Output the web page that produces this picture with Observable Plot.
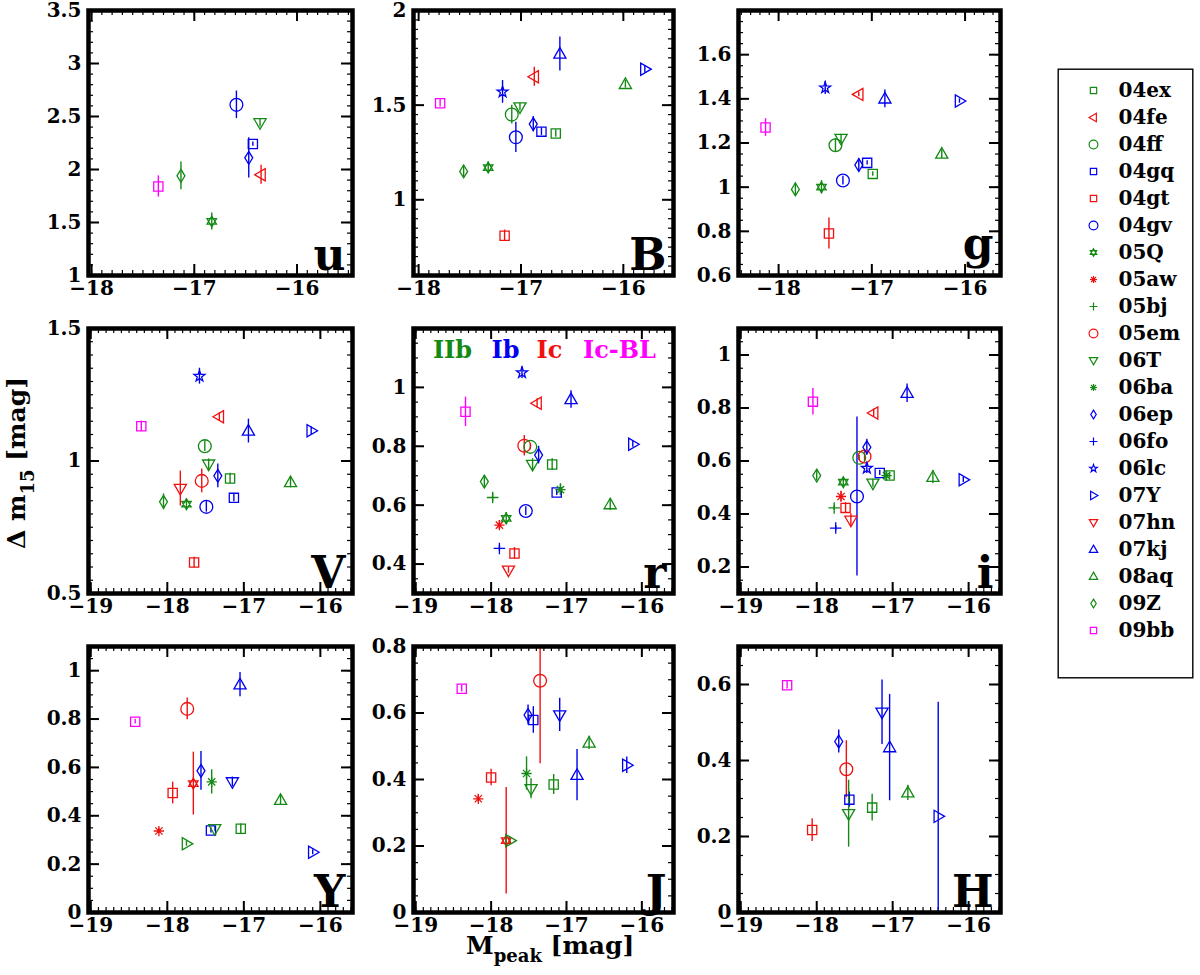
<!DOCTYPE html>
<html><head><meta charset="utf-8">
<script src="https://cdn.jsdelivr.net/npm/d3@7"></script>
<script src="https://cdn.jsdelivr.net/npm/@observablehq/plot@0.6"></script>
<style>
body{margin:0;background:#fff;}
#fig{position:relative;width:1200px;height:975px;overflow:hidden;font-family:"DejaVu Serif",serif;font-weight:bold;color:#000;}
.panel{position:absolute;}
.panel svg{overflow:visible;}
.ytitle{position:absolute;left:20px;top:463px;transform:translate(-50%,-50%) rotate(-90deg);font-size:25px;white-space:nowrap;}
.xtitle{position:absolute;left:466px;top:931px;font-size:25px;white-space:nowrap;}
sub{font-size:0.72em;vertical-align:-0.45em;}
</style></head><body><div id="fig"></div>
<script>
// ---------------- data ----------------
const snNames = ["04ex","04fe","04ff","04gq","04gt","04gv","05Q","05aw","05bj","05em","06T","06ba","06ep","06fo","06lc","07Y","07hn","07kj","08aq","09Z","09bb"];
const snTypes = ["IIb","Ic","IIb","Ib","Ic","Ib","IIb","Ic","IIb","Ic","IIb","IIb","Ib","Ib","Ib","Ib","Ic","Ib","IIb","IIb","Ic-BL"];
// objects shown only in the NIR panels, not in the legend
const extraNames = ["X1","X2","X3"];
const extraTypes = ["Ib","IIb","Ic"];

const u_names = ["09bb","09Z","05Q","04gv","06ep","04gq","06T","04fe"];
const u_M     = [-17.35,-17.13,-16.83,-16.59,-16.47,-16.43,-16.36,-16.35];
const u_dm    = [1.84,1.94,1.51,2.61,2.11,2.24,2.44,1.95];
const u_err   = [0.10,0.13,0.08,0.13,0.19,0.02,0.04,0.09];

const B_names = ["09bb","09Z","05Q","06lc","04gt","04ff","04gv","06T","06ep","04fe","04gq","04ex","07kj","08aq","07Y"];
const B_M     = [-17.79,-17.56,-17.32,-17.18,-17.16,-17.09,-17.05,-17.01,-16.88,-16.87,-16.80,-16.66,-16.62,-15.98,-15.79];
const B_dm    = [1.51,1.15,1.17,1.57,0.81,1.45,1.33,1.49,1.40,1.65,1.36,1.35,1.77,1.61,1.69];
const B_err   = [0.02,0.03,0.03,0.06,0.03,0.05,0.08,0.02,0.04,0.05,0.02,0.02,0.09,0.02,0.02];

const g_names = ["09bb","09Z","05Q","06lc","04gt","04ff","06T","04gv","04fe","06ep","04gq","04ex","07kj","08aq","07Y"];
const g_M     = [-18.14,-17.82,-17.54,-17.50,-17.46,-17.39,-17.33,-17.31,-17.14,-17.14,-17.05,-16.99,-16.86,-16.25,-16.06];
const g_dm    = [1.27,0.99,1.00,1.45,0.79,1.19,1.22,1.03,1.42,1.10,1.11,1.06,1.40,1.15,1.39];
const g_err   = [0.04,0.03,0.03,0.03,0.07,0.03,0.02,0.02,0.01,0.03,0.01,0.01,0.04,0.02,0.01];

const V_names = ["09bb","09Z","07hn","05Q","04gt","06lc","05em","04ff","04gv","06T","06ep","04fe","04ex","04gq","07kj","08aq","07Y"];
const V_M     = [-18.34,-18.05,-17.83,-17.75,-17.65,-17.58,-17.55,-17.51,-17.49,-17.46,-17.34,-17.32,-17.18,-17.13,-16.94,-16.39,-16.12];
const V_dm    = [1.131,0.846,0.896,0.837,0.617,1.320,0.925,1.056,0.827,0.988,0.944,1.167,0.934,0.861,1.113,0.919,1.114];
const V_err   = [0.02,0.03,0.066,0.02,0.02,0.03,0.045,0.02,0.02,0.02,0.045,0.015,0.02,0.015,0.045,0.02,0.015];

const r_names = ["09bb","09Z","05bj","05aw","06fo","05Q","07hn","04gt","06lc","05em","04gv","04ff","06T","04fe","06ep","04ex","04gq","06ba","07kj","08aq","07Y"];
const r_M     = [-18.34,-18.09,-17.98,-17.89,-17.89,-17.80,-17.77,-17.69,-17.59,-17.56,-17.54,-17.48,-17.45,-17.39,-17.37,-17.19,-17.13,-17.08,-16.94,-16.42,-16.12];
const r_dm    = [0.917,0.680,0.626,0.532,0.453,0.555,0.379,0.436,1.050,0.802,0.580,0.798,0.738,0.946,0.770,0.738,0.643,0.653,0.959,0.602,0.807];
const r_err   = [0.05,0.02,0.015,0.015,0.01,0.02,0.01,0.02,0.02,0.035,0.015,0.01,0.02,0.015,0.03,0.02,0.01,0.02,0.03,0.02,0.01];

const i_names = ["09bb","09Z","05bj","06fo","05aw","05Q","04gt","07hn","04gv","04ff","05em","06ep","06lc","06T","04fe","04gq","06ba","04ex","07kj","08aq","07Y"];
const i_M     = [-18.05,-18.00,-17.77,-17.75,-17.68,-17.65,-17.62,-17.55,-17.47,-17.44,-17.37,-17.34,-17.34,-17.26,-17.25,-17.17,-17.08,-17.04,-16.81,-16.47,-16.07];
const i_dm    = [0.824,0.545,0.423,0.347,0.466,0.520,0.423,0.376,0.466,0.612,0.617,0.652,0.573,0.516,0.781,0.555,0.545,0.545,0.856,0.539,0.529];
const i_err   = [0.05,0.02,0.01,0.01,0.02,0.015,0.02,0.025,0.30,0.01,0.02,0.03,0.02,0.015,0.015,0.01,0.01,0.01,0.035,0.025,0.01];

const Y_names = ["09bb","05aw","04gt","05em","X2","X3","06ep","06ba","04gq","06T","X1","07kj","04ex","08aq","07Y"];
const Y_M     = [-18.42,-18.11,-17.93,-17.74,-17.75,-17.66,-17.56,-17.42,-17.43,-17.38,-17.15,-17.05,-17.04,-16.52,-16.10];
const Y_dm    = [0.789,0.337,0.494,0.842,0.284,0.533,0.586,0.540,0.339,0.346,0.540,0.942,0.346,0.464,0.249];
const Y_err   = [0.01,0.01,0.045,0.045,0.01,0.13,0.08,0.05,0.01,0.01,0.02,0.05,0.02,0.02,0.01];

const J_names = ["09bb","05aw","04gt","X3","X2","06ba","06ep","06T","04gq","05em","04ex","X1","07kj","08aq","07Y"];
const J_M     = [-18.39,-18.17,-18.00,-17.80,-17.75,-17.53,-17.51,-17.47,-17.44,-17.35,-17.17,-17.09,-16.86,-16.70,-16.20];
const J_dm    = [0.673,0.342,0.406,0.216,0.216,0.418,0.594,0.372,0.579,0.697,0.385,0.594,0.413,0.510,0.443];
const J_err   = [0.01,0.01,0.025,0.16,0.01,0.05,0.03,0.03,0.04,0.25,0.03,0.05,0.077,0.02,0.025];

const H_names = ["09bb","04gt","06ep","05em","04gq","06T","04ex","X1","07kj","08aq","07Y"];
const H_M     = [-18.39,-18.06,-17.71,-17.61,-17.57,-17.58,-17.27,-17.14,-17.04,-16.80,-16.40];
const H_dm    = [0.598,0.217,0.450,0.377,0.297,0.260,0.276,0.527,0.434,0.315,0.253];
const H_err   = [0.01,0.03,0.03,0.075,0.02,0.088,0.035,0.085,0.14,0.02,0.30];

// tick labels
const xTicksTop  = [-18,-17,-16];
const xTicksLow  = [-19,-18,-17,-16];
const u_yticks = [1,1.5,2,2.5,3,3.5];
const B_yticks = [1,1.5,2];
const g_yticks = [0.6,0.8,1,1.2,1.4,1.6];
const V_yticks = [0.5,1,1.5];
const r_yticks = [0.4,0.6,0.8,1];
const i_yticks = [0.2,0.4,0.6,0.8,1];
const Y_yticks = [0,0.2,0.4,0.6,0.8,1];
const J_yticks = [0,0.2,0.4,0.6,0.8];
const H_yticks = [0,0.2,0.4,0.6];
const typeLabels = ["IIb","Ib","Ic","Ic-BL"];

// ---------------- styles ----------------
const typeColor = {"IIb":"#148a14","Ib":"#0000f0","Ic":"#f01010","Ic-BL":"#ff00ff"};
const snType = {};
snNames.forEach((n,i)=>snType[n]=snTypes[i]);
extraNames.forEach((n,i)=>snType[n]=extraTypes[i]);

const mk = fn => ({draw(c, size){ const r = Math.sqrt(size/Math.PI); fn(c, r); }});
const poly = (c, pts) => { c.moveTo(pts[0][0],pts[0][1]); for (let k=1;k<pts.length;k++) c.lineTo(pts[k][0],pts[k][1]); c.closePath(); };
const SYM = {
  circle: mk((c,r)=>{ c.moveTo(r,0); c.arc(0,0,r,0,2*Math.PI); }),
  square: mk((c,r)=>{ const s=r*0.72; poly(c,[[-s,-s],[s,-s],[s,s],[-s,s]]); }),
  diamond: mk((c,r)=>{ const w=r*0.62; poly(c,[[0,-r],[w,0],[0,r],[-w,0]]); }),
  triUp: mk((c,r)=>poly(c,[[0,-r],[0.95*r,0.65*r],[-0.95*r,0.65*r]])),
  triDown: mk((c,r)=>poly(c,[[0,r],[0.95*r,-0.65*r],[-0.95*r,-0.65*r]])),
  triLeft: mk((c,r)=>poly(c,[[-r,0],[0.65*r,-0.95*r],[0.65*r,0.95*r]])),
  triRight: mk((c,r)=>poly(c,[[r,0],[-0.65*r,-0.95*r],[-0.65*r,0.95*r]])),
  hexagram: mk((c,r)=>{ const R=r*0.85, a=k=>[R*Math.cos(k*Math.PI/180),R*Math.sin(k*Math.PI/180)];
    poly(c,[a(-90),a(30),a(150)]); poly(c,[a(90),a(210),a(330)]); }),
  star5: mk((c,r)=>{ const R=r*0.9, q=R*0.4, pts=[]; for(let k=0;k<10;k++){ const ang=-Math.PI/2+k*Math.PI/5, rr=k%2?q:R; pts.push([rr*Math.cos(ang),rr*Math.sin(ang)]);} poly(c,pts); }),
  plus: mk((c,r)=>{ const s=r*0.9; c.moveTo(-s,0); c.lineTo(s,0); c.moveTo(0,-s); c.lineTo(0,s); }),
  asterisk: mk((c,r)=>{ const s=r*0.8; for(let k=0;k<4;k++){ const ang=k*Math.PI/4; c.moveTo(-s*Math.cos(ang),-s*Math.sin(ang)); c.lineTo(s*Math.cos(ang),s*Math.sin(ang)); } })
};
const snSymbol = {"04ex":"square","04fe":"triLeft","04ff":"circle","04gq":"square","04gt":"square","04gv":"circle","05Q":"hexagram","05aw":"asterisk","05bj":"plus","05em":"circle","06T":"triDown","06ba":"asterisk","06ep":"diamond","06fo":"plus","06lc":"star5","07Y":"triRight","07hn":"triDown","07kj":"triUp","08aq":"triUp","09Z":"diamond","09bb":"square","X1":"triDown","X2":"triRight","X3":"hexagram"};

const colX = [[88,352],[413,673],[738,1000]];
const rowY = [[10,275],[328,593],[646,912]];

const panels = [
  {band:"u", names:u_names, M:u_M, dm:u_dm, err:u_err, xd:[-18.03,-15.46], yd:[1,3.5], xt:xTicksTop, yt:u_yticks, ym:0.1, c:0, r:0},
  {band:"B", names:B_names, M:B_M, dm:B_dm, err:B_err, xd:[-18.05,-15.51], yd:[0.6,2], xt:xTicksTop, yt:B_yticks, ym:0.05, c:1, r:0},
  {band:"g", names:g_names, M:g_M, dm:g_dm, err:g_err, xd:[-18.43,-15.62], yd:[0.6,1.8], xt:xTicksTop, yt:g_yticks, ym:0.05, c:2, r:0, lift:11},
  {band:"V", names:V_names, M:V_M, dm:V_dm, err:V_err, xd:[-19.03,-15.58], yd:[0.5,1.5], xt:xTicksLow, yt:V_yticks, ym:0.05, c:0, r:1},
  {band:"r", names:r_names, M:r_M, dm:r_dm, err:r_err, xd:[-19.03,-15.58], yd:[0.3,1.2], xt:xTicksLow, yt:r_yticks, ym:0.05, c:1, r:1, types:true},
  {band:"i", names:i_names, M:i_M, dm:i_dm, err:i_err, xd:[-19.03,-15.58], yd:[0.1,1.1], xt:xTicksLow, yt:i_yticks, ym:0.05, c:2, r:1},
  {band:"Y", names:Y_names, M:Y_M, dm:Y_dm, err:Y_err, xd:[-19.03,-15.58], yd:[0,1.1], xt:xTicksLow, yt:Y_yticks, ym:0.05, c:0, r:2},
  {band:"J", names:J_names, M:J_M, dm:J_dm, err:J_err, xd:[-19.03,-15.58], yd:[0,0.8], xt:xTicksLow, yt:J_yticks, ym:0.05, c:1, r:2},
  {band:"H", names:H_names, M:H_M, dm:H_dm, err:H_err, xd:[-19.03,-15.58], yd:[0,0.7], xt:xTicksLow, yt:H_yticks, ym:0.05, c:2, r:2}
];

function steps(d, step){
  const a=Math.min(...d), b=Math.max(...d), out=[];
  for (let k=Math.ceil(a/step-1e-6); k*step<=b+1e-9; k++) out.push(+(k*step).toFixed(4));
  return out;
}

const fig = document.getElementById("fig");
const FONT = {fontFamily:"DejaVu Serif, serif", fontSize:"20px", fontWeight:"bold", overflow:"visible", background:"none"};

function makePanel(p){
  const [L,R] = colX[p.c], [T,B] = rowY[p.r];
  const mL=66, mR=14, mT=10, mB=38;
  const W=R-L, H=B-T;
  const rows = p.names.map((n,i)=>({sn:n, M:p.M[i], dm:p.dm[i], e:p.err[i]}));
  const xm = steps(p.xd,0.1), ym = steps(p.yd,p.ym);
  const xMaj = p.xt.filter(v=>v>=Math.min(...p.xd)&&v<=Math.max(...p.xd));
  const yMaj = p.yt;
  const tickSet = (xs,ys,len,sw)=>[
    Plot.tickX(xs,{x:d=>d, insetTop:H-len, strokeWidth:sw}),
    Plot.tickX(xs,{x:d=>d, insetBottom:H-len, strokeWidth:sw}),
    Plot.tickY(ys,{y:d=>d, insetRight:W-len, strokeWidth:sw}),
    Plot.tickY(ys,{y:d=>d, insetLeft:W-len, strokeWidth:sw})
  ];
  const marks = [...tickSet(xm,ym,5,1.2), ...tickSet(xMaj,yMaj,11,2)];
  for (const row of rows){
    const col = typeColor[snType[row.sn]];
    marks.push(Plot.ruleX([row],{x:"M", y1:d=>d.dm-d.e, y2:d=>d.dm+d.e, stroke:col, strokeWidth:1.4, clip:true}));
  }
  for (const row of rows){
    const col = typeColor[snType[row.sn]];
    marks.push(Plot.dot([row],{x:"M", y:"dm", symbol:SYM[snSymbol[row.sn]], r:6.4, stroke:col, fill:"none", strokeWidth:1.3}));
  }
  if (p.types){
    const off = [39,92,136,206];
    typeLabels.forEach((t,k)=>marks.push(Plot.text([t],{text:d=>d, frameAnchor:"top-left", dx:off[k], dy:22, textAnchor:"middle", lineAnchor:"middle", fill:typeColor[t], fontSize:24, fontWeight:"bold"})));
  }
  marks.push(Plot.text([p.band],{text:d=>d, frameAnchor:"bottom-right", dx:-7, dy:-(6+(p.lift||0)), textAnchor:"end", lineAnchor:"bottom", fontSize:44, fontWeight:"bold"}));
  marks.push(Plot.frame({strokeWidth:4.5}));
  marks.push(Plot.axisX(xMaj,{tickSize:0, tickPadding:5, label:null, tickFormat:d=>d3.format("d")(d)}));
  marks.push(Plot.axisY(yMaj,{tickSize:0, tickPadding:7, label:null, tickFormat:d=>String(+d.toFixed(2))}));
  const svg = Plot.plot({
    width:W+mL+mR, height:H+mT+mB, marginLeft:mL, marginRight:mR, marginTop:mT, marginBottom:mB,
    x:{domain:p.xd, label:null}, y:{domain:p.yd, label:null},
    style:FONT, marks
  });
  const div = document.createElement("div");
  div.className="panel"; div.style.left=(L-mL)+"px"; div.style.top=(T-mT)+"px";
  div.appendChild(svg); fig.appendChild(div);
}
panels.forEach(makePanel);

// legend
(function(){
  const top=68, lw=136, lh=610;
  const marks=[Plot.frame({strokeWidth:1.4, inset:0.7})];
  for (const n of snNames){
    marks.push(Plot.dot([n],{y:d=>d, frameAnchor:"left", dx:36, symbol:SYM[snSymbol[n]], r:4.4, stroke:typeColor[snType[n]], fill:"none", strokeWidth:1.2}));
  }
  marks.push(Plot.text(snNames,{y:d=>d, frameAnchor:"left", dx:61, text:d=>d, textAnchor:"start", fontSize:20, fontWeight:"bold"}));
  const svg = Plot.plot({width:lw, height:lh, margin:0, x:{domain:[0,1], axis:null},
    y:{type:"point", domain:snNames, range:[90-top,630-top], padding:0, axis:null}, style:FONT, marks});
  const div=document.createElement("div"); div.className="panel"; div.style.left="1057px"; div.style.top=top+"px";
  div.appendChild(svg); fig.appendChild(div);
})();

const yt=document.createElement("div"); yt.className="ytitle"; yt.innerHTML="Δ m<sub>15</sub> [mag]"; fig.appendChild(yt);
const xt=document.createElement("div"); xt.className="xtitle"; xt.innerHTML="M<sub>peak</sub> [mag]"; fig.appendChild(xt);
</script></body></html>
